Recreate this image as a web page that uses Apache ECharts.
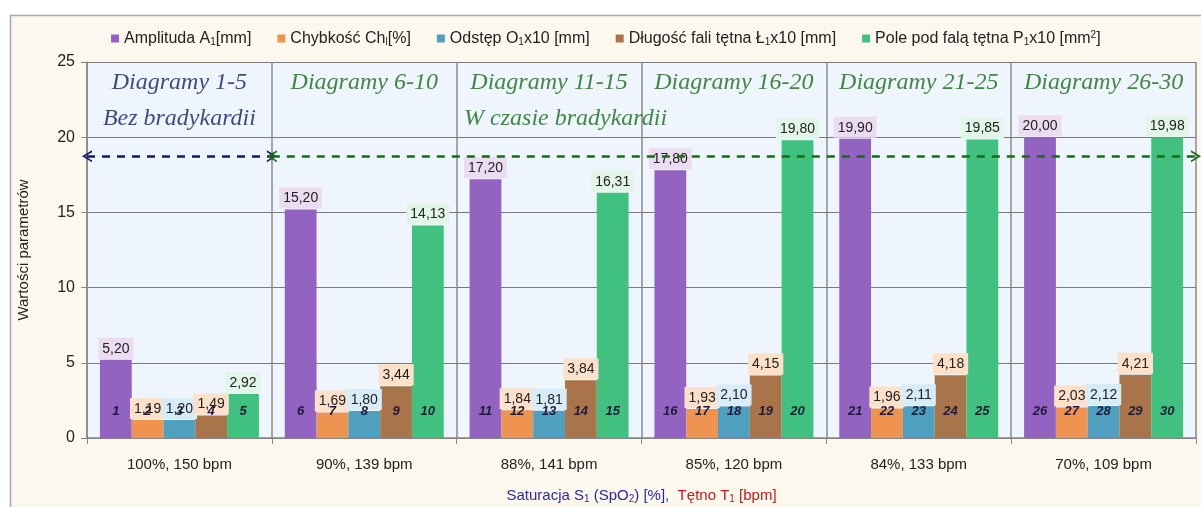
<!DOCTYPE html>
<html>
<head>
<meta charset="utf-8">
<script src="https://cdn.jsdelivr.net/npm/echarts@6/dist/echarts.min.js"></script>
<style>
html,body{margin:0;padding:0;background:#fff;}
#main{width:1201px;height:507px;}
</style>
</head>
<body>
<div id="main"></div>
<script>
var myChart = echarts.init(document.getElementById('main'));

// kategorie (saturacja, tetno)
var categories = ['100%, 150 bpm', '90%, 139 bpm', '88%, 141 bpm', '85%, 120 bpm', '84%, 133 bpm', '70%, 109 bpm'];

// serie
var amplituda = [5.20, 15.20, 17.20, 17.80, 19.90, 20.00];
var chybkosc  = [1.19, 1.69, 1.84, 1.93, 1.96, 2.03];
var odstep    = [1.20, 1.80, 1.81, 2.10, 2.11, 2.12];
var dlugosc   = [1.49, 3.44, 3.84, 4.15, 4.18, 4.21];
var pole      = [2.92, 14.13, 16.31, 19.80, 19.85, 19.98];

var seriesNames = ['Amplituda A1[mm]', 'Chybkość Ch1[%]', 'Odstęp O1x10 [mm]', 'Długość fali tętna Ł1x10 [mm]', 'Pole pod falą tętna P1x10 [mm2]'];
var legendRichNames = [
    'Amplituda A{s|1}[mm]',
    'Chybkość Ch{s|l}[%]',
    'Odstęp O{s|1}x10 [mm]',
    'Długość fali tętna Ł{s|1}x10 [mm]',
    'Pole pod falą tętna P{s|1}x10 [mm{p|2}]'
];
var seriesData = [amplituda, chybkosc, odstep, dlugosc, pole];
var colors   = ['#9263c1', '#ee9350', '#4f9fbf', '#a9744a', '#41c17f'];
var labelBgs = ['#ecdcf1', '#fbe1c9', '#d6ecf6', '#fbe1c9', '#e2f5e9'];

// numery diagramow 1..30
var diagramNo = [
    [1, 6, 11, 16, 21, 26],
    [2, 7, 12, 17, 22, 27],
    [3, 8, 13, 18, 23, 28],
    [4, 9, 14, 19, 24, 29],
    [5, 10, 15, 20, 25, 30]
];
var diagramNoLevel = 1.75;

// opisy w polu wykresu
var noteTexts = ['Diagramy 1-5', 'Diagramy 6-10', 'Diagramy 11-15', 'Diagramy 16-20', 'Diagramy 21-25', 'Diagramy 26-30', 'Bez bradykardii', 'W czasie bradykardii'];
var noteX     = [0.5, 1.5, 2.5, 3.5, 4.5, 5.5, 0.5, 2.04];
var noteY     = [23.65, 23.65, 23.65, 23.65, 23.65, 23.65, 21.2, 21.2];
var arrowLevel = 18.73;

var navy = '#141a60';
var green = '#176a17';

function fmt(v) {
    return v.toFixed(2).replace('.', ',');
}

var series = [];
for (var i = 0; i < 5; i++) {
    var mp = [];
    for (var k = 0; k < categories.length; k++) {
        mp.push({ coord: [k, diagramNoLevel], value: diagramNo[i][k] });
    }
    series.push({
        name: seriesNames[i],
        type: 'bar',
        data: seriesData[i],
        barGap: '0%',
        barCategoryGap: '14%',
        itemStyle: { color: colors[i] },
        label: {
            show: true,
            position: 'top',
            distance: 1,
            color: '#222',
            fontSize: 14,
            fontFamily: 'Arial',
            backgroundColor: labelBgs[i],
            padding: [4, 4, 3, 4],
            formatter: function (p) { return fmt(p.value); }
        },
        markPoint: {
            symbol: 'rect',
            symbolSize: 1,
            itemStyle: { color: 'rgba(0,0,0,0)' },
            label: {
                show: true,
                position: 'inside',
                color: '#1c1c3a',
                fontSize: 13,
                fontStyle: 'italic',
                fontWeight: 'bold',
                fontFamily: 'Arial',
                formatter: function (p) { return p.value; }
            },
            data: mp
        }
    });
}

var noteData = [];
for (var n = 0; n < noteTexts.length; n++) {
    noteData.push({
        value: [noteX[n], noteY[n]],
        name: noteTexts[n],
        label: {
            color: (n === 0 || n === 6) ? navy : green,
            align: n === 7 ? 'left' : 'center'
        }
    });
}

var chevron = 'path://M0,10 L5,0 L10,10 L8.4,10 L5,3.2 L1.6,10 Z';

series.push({
    name: 'notes',
    type: 'scatter',
    xAxisIndex: 1,
    yAxisIndex: 0,
    symbolSize: 0,
    silent: true,
    data: noteData,
    label: {
        show: true,
        position: 'inside',
        fontFamily: 'Liberation Serif',
        fontStyle: 'italic',
        fontSize: 24,
        formatter: function (p) { return p.name; }
    },
    markLine: {
        silent: true,
        symbol: [chevron, chevron],
        symbolSize: [12, 10],
        label: { show: false },
        data: [
            [{ coord: [0, arrowLevel], lineStyle: { color: navy, width: 2.5, type: [8, 7] } }, { coord: [1, arrowLevel] }],
            [{ coord: [1, arrowLevel], lineStyle: { color: green, width: 2.5, type: [8, 7] } }, { coord: [6, arrowLevel] }]
        ]
    }
});

var option = {
    animation: false,
    backgroundColor: '#ffffff',
    textStyle: { fontFamily: 'Arial' },
    graphic: [{
        type: 'rect',
        z: -10,
        shape: { x: 10.5, y: 15.5, width: 1200, height: 500 },
        style: { fill: '#fdf8ee', stroke: '#a9a9a9', lineWidth: 1.5 }
    }],
    legend: {
        data: seriesNames,
        top: 25,
        left: 106,
        itemWidth: 8,
        itemHeight: 8,
        itemGap: 26,
        icon: 'rect',
        textStyle: {
            fontSize: 16,
            color: '#222',
            rich: {
                s: { fontSize: 10, padding: [8, 0, 0, 0] },
                p: { fontSize: 10, padding: [0, 0, 7, 0] }
            }
        },
        formatter: function (name) {
            return legendRichNames[seriesNames.indexOf(name)];
        }
    },
    grid: {
        left: 87,
        right: 5,
        top: 62,
        height: 376,
        outerBoundsMode: 'none',
        containLabel: false,
        show: true,
        backgroundColor: '#eef5fc',
        borderWidth: 0
    },
    xAxis: [{
        type: 'category',
        data: categories,
        axisLine: { lineStyle: { color: '#888', width: 1.5 } },
        axisTick: { show: true, length: 6, lineStyle: { color: '#888' } },
        splitLine: { show: true, lineStyle: { color: '#8a8a8a', width: 1.5 } },
        axisLabel: { fontSize: 15, color: '#222', margin: 19 },
        name: '{b|Saturacja S}{bs|1}{b| (SpO}{bs|2}{b|) [%],  }{r|Tętno T}{rs|1}{r| [bpm]}',
        nameLocation: 'middle',
        nameGap: 49,
        nameTextStyle: {
            rich: {
                b: { color: '#2a2aa8', fontSize: 15 },
                bs: { color: '#2a2aa8', fontSize: 10, padding: [7, 0, 0, 0] },
                r: { color: '#c41a1a', fontSize: 15 },
                rs: { color: '#c41a1a', fontSize: 10, padding: [7, 0, 0, 0] }
            }
        }
    }, {
        type: 'value',
        min: 0,
        max: 6,
        show: false
    }],
    yAxis: {
        type: 'value',
        min: 0,
        max: 25,
        interval: 5,
        name: 'Wartości parametrów',
        nameLocation: 'middle',
        nameGap: 56,
        nameTextStyle: { fontSize: 15, color: '#222' },
        axisLine: { show: true, lineStyle: { color: '#888', width: 1.5 } },
        axisTick: { show: true, length: 6, lineStyle: { color: '#888' } },
        axisLabel: { fontSize: 16, color: '#222', margin: 12 },
        splitLine: { lineStyle: { color: '#7a7a7a', width: 1.2 } }
    },
    series: series
};

myChart.setOption(option);
</script>
</body>
</html>
